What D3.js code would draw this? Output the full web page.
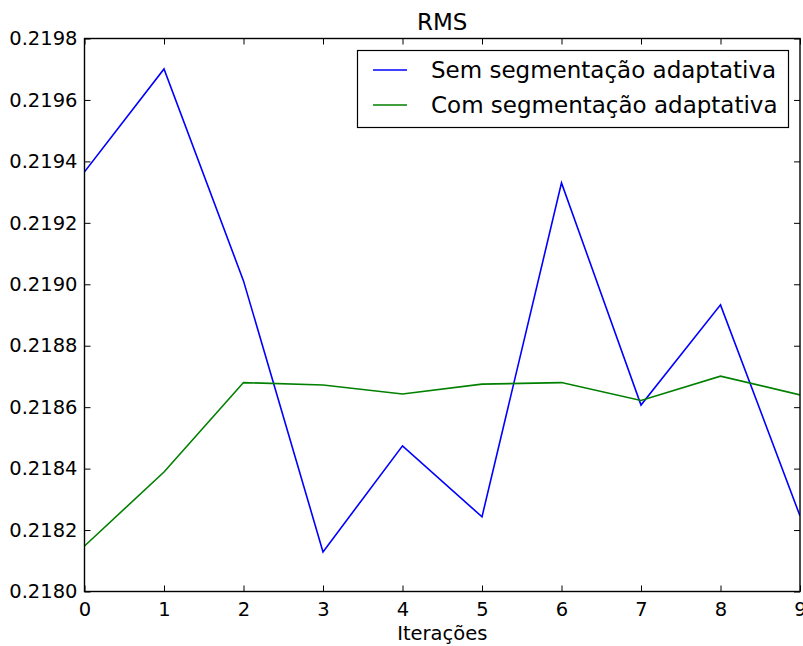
<!DOCTYPE html>
<html>
<head>
<meta charset="utf-8">
<script src="https://cdn.jsdelivr.net/npm/d3@7"></script>
<style>
  html, body { margin: 0; padding: 0; background: #fff; }
  svg { display: block; font-family: "DejaVu Sans", sans-serif; }
</style>
</head>
<body>
<svg id="chart" width="803" height="646"></svg>
<script>
// Iteration indices and RMS per iteration for both strategies
const iterations = [0, 1, 2, 3, 4, 5, 6, 7, 8, 9];
const semSegmentacao = [0.219366, 0.219701, 0.219011, 0.218129, 0.218474, 0.218243, 0.219330, 0.218607, 0.218933, 0.218246];
const comSegmentacao = [0.218148, 0.218389, 0.218680, 0.218672, 0.218643, 0.218675, 0.218680, 0.218622, 0.218701, 0.218640];
const yTicks = [0.2180, 0.2182, 0.2184, 0.2186, 0.2188, 0.2190, 0.2192, 0.2194, 0.2196, 0.2198];
const seriesNames = ["Sem segmentação adaptativa", "Com segmentação adaptativa"];
const seriesColors = ["#0000ff", "#008000"];

const svg = d3.select("#chart");
const margin = { left: 84.5, top: 38.5, right: 800, bottom: 591.5 };

const x = d3.scaleLinear().domain([0, 9]).range([margin.left, margin.right]);
const y = d3.scaleLinear().domain([0.2180, 0.2198]).range([margin.bottom, margin.top]);

const tickLen = 6;
const fontSize = 19.5;
const bigFont = 23;

// Data lines
const line = d3.line().x((d, i) => x(iterations[i])).y(d => y(d));
svg.append("clipPath").attr("id", "plotclip").append("rect")
  .attr("x", margin.left).attr("y", margin.top)
  .attr("width", margin.right - margin.left).attr("height", margin.bottom - margin.top);

[semSegmentacao, comSegmentacao].forEach((vals, k) => {
  svg.append("path")
    .datum(vals)
    .attr("clip-path", "url(#plotclip)")
    .attr("fill", "none")
    .attr("stroke", seriesColors[k])
    .attr("stroke-width", 1.6)
    .attr("stroke-linejoin", "miter")
    .attr("d", line);
});

// Axes with inward ticks on all four sides
const bottomAxis = d3.axisBottom(x).tickValues(iterations).tickFormat(d3.format("d"))
  .tickSizeInner(-tickLen).tickSizeOuter(0).tickPadding(tickLen + 5);
const topAxis = d3.axisTop(x).tickValues(iterations).tickFormat("")
  .tickSizeInner(-tickLen).tickSizeOuter(0);
const leftAxis = d3.axisLeft(y).tickValues(yTicks).tickFormat(d3.format(".4f"))
  .tickSizeInner(-tickLen).tickSizeOuter(0).tickPadding(tickLen + 1);
const rightAxis = d3.axisRight(y).tickValues(yTicks).tickFormat("")
  .tickSizeInner(-tickLen).tickSizeOuter(0);

function styleAxis(g) {
  g.select(".domain").remove();
  g.selectAll(".tick line").attr("stroke", "#000").attr("stroke-width", 1);
  g.selectAll(".tick text").attr("fill", "#000").style("font-size", fontSize + "px")
    .style("font-family", "DejaVu Sans, sans-serif");
}

svg.append("g").attr("transform", `translate(0,${margin.bottom})`).call(bottomAxis).call(styleAxis);
svg.append("g").attr("transform", `translate(0,${margin.top})`).call(topAxis).call(styleAxis);
svg.append("g").attr("transform", `translate(${margin.left},0)`).call(leftAxis).call(styleAxis);
svg.append("g").attr("transform", `translate(${margin.right},0)`).call(rightAxis).call(styleAxis);

// Frame
svg.append("rect")
  .attr("x", margin.left).attr("y", margin.top)
  .attr("width", margin.right - margin.left).attr("height", margin.bottom - margin.top)
  .attr("fill", "none").attr("stroke", "#000").attr("stroke-width", 1.4);

// Title and axis label
svg.append("text")
  .attr("x", (margin.left + margin.right) / 2).attr("y", 30)
  .attr("text-anchor", "middle").style("font-size", bigFont + "px").attr("fill", "#000")
  .text("RMS");
svg.append("text")
  .attr("x", (margin.left + margin.right) / 2).attr("y", 640)
  .attr("text-anchor", "middle").style("font-size", fontSize + "px").attr("fill", "#000")
  .text("Iterações");

// Legend
const legend = svg.append("g");
legend.append("rect")
  .attr("x", 357.5).attr("y", 50.5).attr("width", 431).attr("height", 77)
  .attr("fill", "#fff").attr("stroke", "#000").attr("stroke-width", 1.2);
seriesNames.forEach((name, k) => {
  const cy = 70 + k * 35;
  legend.append("line")
    .attr("x1", 373).attr("x2", 407).attr("y1", cy).attr("y2", cy)
    .attr("stroke", seriesColors[k]).attr("stroke-width", 1.6);
  legend.append("text")
    .attr("x", 431).attr("y", cy).attr("dy", "0.36em")
    .style("font-size", bigFont + "px").attr("fill", "#000")
    .text(name);
});
</script>
</body>
</html>
